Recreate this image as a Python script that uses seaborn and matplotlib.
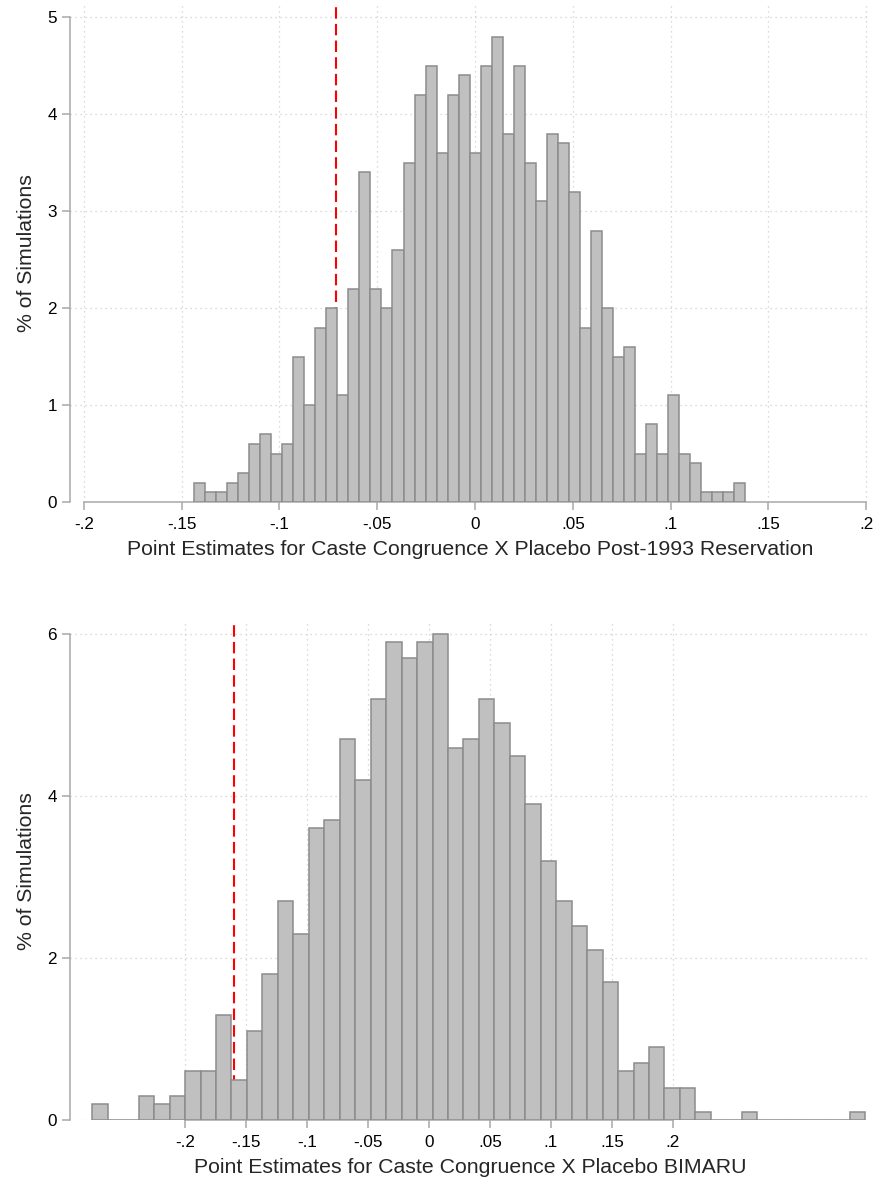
import numpy as np
import pandas as pd
import matplotlib
matplotlib.use("Agg")
import matplotlib.pyplot as plt
import seaborn as sns

# top panel: placebo post-1993 reservation (50 bins, % of simulations)
top_lo, top_hi = -0.1436, 0.1381
top_pct = [0.2, 0.1, 0.1, 0.2, 0.3, 0.6, 0.7, 0.5, 0.6, 1.5,
           1.0, 1.8, 2.0, 1.1, 2.2, 3.4, 2.2, 2.0, 2.6, 3.5,
           4.2, 4.5, 3.6, 4.2, 4.4, 3.6, 4.5, 4.8, 3.8, 4.5,
           3.5, 3.1, 3.8, 3.7, 3.2, 1.8, 2.8, 2.0, 1.5, 1.6,
           0.5, 0.8, 0.5, 1.1, 0.5, 0.4, 0.1, 0.1, 0.1, 0.2]
top_actual = -0.071
top_yticks = [0, 1, 2, 3, 4, 5]
top_xlabel = "Point Estimates for Caste Congruence X Placebo Post-1993 Reservation"

# bottom panel: placebo BIMARU (50 bins, % of simulations)
bot_lo, bot_hi = -0.2763, 0.3582
bot_pct = [0.2, 0.0, 0.0, 0.3, 0.2, 0.3, 0.6, 0.6, 1.3, 0.5,
           1.1, 1.8, 2.7, 2.3, 3.6, 3.7, 4.7, 4.2, 5.2, 5.9,
           5.7, 5.9, 6.0, 4.6, 4.7, 5.2, 4.9, 4.5, 3.9, 3.2,
           2.7, 2.4, 2.1, 1.7, 0.6, 0.7, 0.9, 0.4, 0.4, 0.1,
           0.0, 0.0, 0.1, 0.0, 0.0, 0.0, 0.0, 0.0, 0.0, 0.1]
bot_actual = -0.16
bot_yticks = [0, 2, 4, 6]
bot_xlabel = "Point Estimates for Caste Congruence X Placebo BIMARU"

xtick_vals = [-0.2, -0.15, -0.1, -0.05, 0, 0.05, 0.1, 0.15, 0.2]
xtick_labels = ["-.2", "-.15", "-.1", "-.05", "0", ".05", ".1", ".15", ".2"]

sns.set_theme(style="white")
plt.rcParams['font.family'] = ['Liberation Sans', 'DejaVu Sans']

AXIS_GRAY = '#a8a8a8'


def draw_panel(ax, lo, hi, pct, actual, xlim, ylim, yticks, xlabel):
    nb = len(pct)
    w = (hi - lo) / nb
    df = pd.DataFrame({'mid': lo + w * (np.arange(nb) + 0.5), 'pct': pct})
    sns.histplot(data=df, x='mid', weights='pct', bins=nb, binrange=(lo, hi),
                 ax=ax, color='#c0c0c0', edgecolor='#8c8c8c', linewidth=1.1,
                 alpha=1, zorder=3)
    ax.axvline(actual, color='red', lw=1.5, ls=(0, (5.5, 2.5)), zorder=2)

    ax.set_xlim(*xlim)
    ax.set_ylim(*ylim)
    ax.set_xticks(xtick_vals)
    ax.set_xticklabels(xtick_labels)
    ax.set_yticks(yticks)
    ax.set_axisbelow(True)
    ax.grid(True, color='#cfcfcf', lw=0.9, ls=(0, (1, 3)))

    for s in ['top', 'right']:
        ax.spines[s].set_visible(False)
    ax.spines['left'].set_bounds(yticks[0], yticks[-1])
    ax.spines['bottom'].set_bounds(-0.2, 0.2)
    for s in ['left', 'bottom']:
        ax.spines[s].set_color(AXIS_GRAY)
        ax.spines[s].set_linewidth(1.1)

    ax.tick_params(direction='out', length=5.8, width=1.1, color=AXIS_GRAY,
                   labelcolor='black', labelsize=12.3, bottom=True, left=True)
    ax.tick_params(axis='y', pad=3.5)
    ax.tick_params(axis='x', pad=5)
    ax.set_ylabel("% of Simulations", fontsize=15.3, labelpad=8)
    ax.set_xlabel(xlabel, fontsize=15.3, labelpad=6)


fig = plt.figure(figsize=(8.73, 11.82), dpi=100)
W, H = 873, 1182
ax1 = fig.add_axes([70 / W, (H - 502) / H, 800 / W, 497 / H])
ax2 = fig.add_axes([70 / W, (H - 1120) / H, 800 / W, 498 / H])

draw_panel(ax1, top_lo, top_hi, top_pct, top_actual,
           (-0.2071, 0.2020), (0, 5.127), top_yticks, top_xlabel)
draw_panel(ax2, bot_lo, bot_hi, bot_pct, bot_actual,
           (-0.2946, 0.3619), (0, 6.15), bot_yticks, bot_xlabel)

fig.savefig("out.png", dpi=100, facecolor='white')
